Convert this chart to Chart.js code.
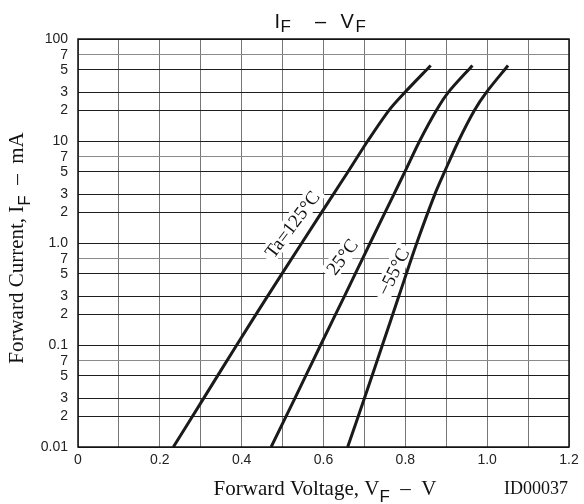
<!DOCTYPE html>
<html>
<head>
<meta charset="utf-8">
<script src="https://cdn.jsdelivr.net/npm/chart.js@4/dist/chart.umd.min.js"></script>
<style>
  html, body { margin: 0; padding: 0; background: #fff; }
  #wrap { width: 584px; height: 504px; }
</style>
</head>
<body>
<div id="wrap"><canvas id="c" width="584" height="504"></canvas></div>
<script>
// Forward current points (mA) shared by all three temperature curves
const currents = [0.01, 0.03, 0.1, 0.3, 1, 3, 5, 10, 20, 30, 55];
// Forward voltage (V) at each current
const vf125 = [0.233, 0.307, 0.388, 0.463, 0.547, 0.624, 0.660, 0.708, 0.760, 0.799, 0.862];
const vf25  = [0.472, 0.530, 0.593, 0.651, 0.714, 0.772, 0.799, 0.835, 0.876, 0.905, 0.964];
const vfM55 = [0.659, 0.700, 0.744, 0.784, 0.828, 0.872, 0.896, 0.930, 0.969, 0.998, 1.051];

// Axis ticks
const xTicks = [0, 0.1, 0.2, 0.3, 0.4, 0.5, 0.6, 0.7, 0.8, 0.9, 1.0, 1.1, 1.2];
const yTicks = [0.01, 0.02, 0.03, 0.05, 0.07, 0.1, 0.2, 0.3, 0.5, 0.7,
                1, 2, 3, 5, 7, 10, 20, 30, 50, 70, 100];
const yTickLabels = ['0.01', '2', '3', '5', '7', '0.1', '2', '3', '5', '7',
                     '1.0', '2', '3', '5', '7', '10', '2', '3', '5', '7', '100'];

// Curve annotations: text, anchor voltage, anchor current, rotation (deg)
const curveLabels = [
  { text: 'Ta=125°C', v: 0.524, i: 1.52, angle: -53 },
  { text: '25°C',     v: 0.646, i: 0.73, angle: -53 },
  { text: '\u221255°C', v: 0.771, i: 0.52, angle: -64 }
];

const SANS = '"Liberation Sans", Arial, sans-serif';
const SERIF = '"Liberation Serif", "Times New Roman", serif';

function series(vs) {
  return vs.map((v, k) => ({ x: v, y: currents[k] }));
}

function isSeven(v) {
  const m = v / Math.pow(10, Math.floor(Math.log10(v) + 1e-9));
  return Math.abs(m - 7) < 0.01;
}

// Draws a sequence of [text, font, baselineShift] pieces starting at x
function drawPieces(ctx, pieces, x, y) {
  let cx = x;
  pieces.forEach(p => {
    ctx.font = p[1];
    ctx.fillText(p[0], cx, y + (p[2] || 0));
    cx += ctx.measureText(p[0]).width;
  });
}
function piecesWidth(ctx, pieces) {
  let w = 0;
  pieces.forEach(p => { ctx.font = p[1]; w += ctx.measureText(p[0]).width; });
  return w;
}

const decorations = {
  id: 'decorations',
  beforeDatasetsDraw(chart) {
    const ctx = chart.ctx;
    const xs = chart.scales.x, ys = chart.scales.y;
    ctx.save();
    ctx.font = '19px ' + SERIF;
    ctx.textAlign = 'center';
    ctx.textBaseline = 'middle';
    curveLabels.forEach(l => {
      const px = xs.getPixelForValue(l.v);
      const py = ys.getPixelForValue(l.i);
      const w = ctx.measureText(l.text).width;
      ctx.save();
      ctx.translate(px, py);
      ctx.rotate(l.angle * Math.PI / 180);
      ctx.fillStyle = '#fff';
      ctx.fillRect(-w / 2 - 4, -10, w + 8, 19);
      ctx.fillStyle = '#111';
      ctx.fillText(l.text, 0, 1);
      ctx.restore();
    });
    ctx.restore();
  },
  afterDraw(chart) {
    const ctx = chart.ctx;
    const a = chart.chartArea;
    ctx.save();
    // plot frame
    ctx.strokeStyle = '#111';
    ctx.lineWidth = 1.5;
    ctx.strokeRect(a.left, a.top, a.right - a.left, a.bottom - a.top);

    ctx.fillStyle = '#111';
    ctx.textAlign = 'left';
    ctx.textBaseline = 'alphabetic';

    // chart title  I_F – V_F, centred over the plot
    const cx = (a.left + a.right) / 2;
    const tf = '20px ' + SANS, sf = '17px ' + SANS;
    ctx.font = tf;  ctx.fillText('I', cx - 49, 28);
    ctx.font = sf;  ctx.fillText('F', cx - 43, 32);
    ctx.font = tf;  ctx.textAlign = 'center'; ctx.fillText('\u2013', cx - 3, 28);
    ctx.textAlign = 'left';
    ctx.fillText('V', cx + 17, 28);
    ctx.font = sf;  ctx.fillText('F', cx + 32, 32);

    // x axis title
    const xf = '21px ' + SERIF, xsf = '17px ' + SANS;
    const xt = [['Forward Voltage, V', xf, 0], ['F', xsf, 7], ['  \u2013  V', xf, 0]];
    drawPieces(ctx, xt, 325 - piecesWidth(ctx, xt) / 2, 495);

    // y axis title
    const yt = [['Forward Current, I', xf, 0], ['F', xsf, 7], ['  \u2013  mA', xf, 0]];
    ctx.save();
    ctx.translate(23, 248);
    ctx.rotate(-Math.PI / 2);
    drawPieces(ctx, yt, -piecesWidth(ctx, yt) / 2, 0);
    ctx.restore();

    // drawing id
    ctx.font = '18px ' + SERIF;
    ctx.textAlign = 'right';
    ctx.fillText('ID00037', 568, 494);
    ctx.restore();
  }
};

const lineStyle = {
  showLine: true,
  pointRadius: 0,
  borderColor: '#1a1a1a',
  borderWidth: 3,
  tension: 0.3,
  fill: false
};

new Chart(document.getElementById('c'), {
  type: 'scatter',
  data: {
    datasets: [
      Object.assign({ label: 'Ta=125°C', data: series(vf125) }, lineStyle),
      Object.assign({ label: '25°C', data: series(vf25) }, lineStyle),
      Object.assign({ label: '-55°C', data: series(vfM55) }, lineStyle)
    ]
  },
  options: {
    responsive: false,
    animation: false,
    devicePixelRatio: 1,
    layout: { padding: { top: 39, right: 15, left: 0, bottom: 0 } },
    plugins: {
      legend: { display: false },
      title: { display: false },
      tooltip: { enabled: false }
    },
    scales: {
      x: {
        type: 'linear',
        min: 0,
        max: 1.2,
        afterBuildTicks: s => { s.ticks = xTicks.map(v => ({ value: v })); },
        afterFit: s => { s.height = 57; },
        border: { display: false },
        grid: { color: '#777', lineWidth: 1, drawTicks: false },
        ticks: {
          autoSkip: false,
          maxRotation: 0,
          padding: 5,
          color: '#222',
          font: { family: SANS, size: 14 },
          callback: (v, idx) => idx % 2 ? '' : (v === 0 ? '0' : Number(v).toFixed(1))
        }
      },
      y: {
        type: 'logarithmic',
        min: 0.01,
        max: 100,
        afterBuildTicks: s => { s.ticks = yTicks.map(v => ({ value: v })); },
        afterFit: s => { s.width = 78; },
        border: { display: false },
        grid: {
          drawTicks: false,
          lineWidth: 1,
          color: c => (c.tick && isSeven(c.tick.value)) ? '#8a8a8a' : '#1e1e1e'
        },
        ticks: {
          autoSkip: false,
          padding: 10,
          color: '#222',
          font: { family: SANS, size: 14 },
          callback: (v, idx) => yTickLabels[idx]
        }
      }
    }
  },
  plugins: [decorations]
});
</script>
</body>
</html>
